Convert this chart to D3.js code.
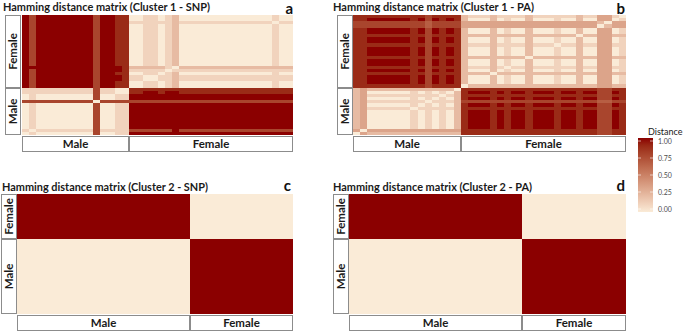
<!DOCTYPE html>
<html>
<head>
<meta charset="utf-8">
<script src="https://cdn.jsdelivr.net/npm/d3@7"></script>
<style>
  body { margin: 0; background: #fff; }
  text { font-family: Lato, "Open Sans", sans-serif; }
</style>
</head>
<body>
<div id="chart-area"></div>
<script>

// individuals are ordered males first, then females (same order on x and y)
// each string is one row of the distance matrix, one digit per column, value = digit / 9
var nMale1 = 15, nFemale1 = 23
var nMale2 = 5, nFemale2 = 3

var snp1 = [
  "010000000070011" + "99999999999999999999999",
  "101111111171111" + "77777797777777777777777",
  "010000000070011" + "99999999999999999999999",
  "010000000070011" + "99999999999999999999999",
  "010000000070011" + "99999999999999999999999",
  "010000000070011" + "99999999999999999999999",
  "010000000070011" + "99999999999999999999999",
  "010000000070011" + "99999999999999999999999",
  "010000000070011" + "99999999999999999999999",
  "010000000070011" + "99999999999999999999999",
  "777777777707777" + "77777777777777777777777",
  "010000000070011" + "99999999999999999999999",
  "010000000070011" + "99999999999999999999999",
  "111111111171100" + "88998998888888888888888",
  "111111111171100" + "88888888888888888888888",
  "979999999979988" + "00110120000000000000100",
  "979999999979988" + "00110120000000000000100",
  "979999999979998" + "11001121111111111111111",
  "979999999979998" + "11001121111111111111111",
  "979999999979988" + "00110120000000000000100",
  "979999999979998" + "11111011111111111111111",
  "999999999979998" + "22222102222222222222222",
  "979999999979988" + "00110120000000000000100",
  "979999999979988" + "00110120000000000000100",
  "979999999979988" + "00110120000000000000100",
  "979999999979988" + "00110120000000000000100",
  "979999999979988" + "00110120000000000000100",
  "979999999979988" + "00110120000000000000100",
  "979999999979988" + "00110120000000000000100",
  "979999999979988" + "00110120000000000000100",
  "979999999979988" + "00110120000000000000100",
  "979999999979988" + "00110120000000000000100",
  "979999999979988" + "00110120000000000000100",
  "979999999979988" + "00110120000000000000100",
  "979999999979988" + "00110120000000000000100",
  "979999999979988" + "11111121111111111111011",
  "979999999979988" + "00110120000000000000100",
  "979999999979988" + "00110120000000000000100"
]

var pa1 = [
  "032222222222222" + "88888888888888888887788",
  "303333333333333" + "88888888888888888887788",
  "230000001010102" + "89998989989998998997798",
  "230000001010102" + "89998989989998998997798",
  "230000001010102" + "89998989989998998997798",
  "230000001010102" + "89998989989998998997798",
  "230000001010102" + "89998989989998998997798",
  "230000001010102" + "89998989989998998997798",
  "231111110111112" + "88888888888888888887788",
  "230000001010102" + "89998989989998998997798",
  "231111111101112" + "77777777777777777776677",
  "230000001010102" + "89998989989998998997798",
  "231111111111012" + "88888888888888888887788",
  "230000001010102" + "89998989989998998997798",
  "232222222222220" + "88888888888888888887788",
  "888888888878888" + "02222222222222222223322",
  "889999998979898" + "20002010020001002003301",
  "889999998979898" + "20002010020001002003301",
  "889999998979898" + "20002010020001002003301",
  "888888888878888" + "22220222222222222223322",
  "889999998979898" + "20002010020001002003301",
  "888888888878888" + "21112101121111112113311",
  "889999998979898" + "20002010020001002003301",
  "889999998979898" + "20002010020001002003301",
  "888888888878888" + "22222222202222222223322",
  "889999998979898" + "20002010020001002003301",
  "889999998979898" + "20002010020001002003301",
  "889999998979898" + "20002010020001002003301",
  "888888888878888" + "21112111121110112113311",
  "889999998979898" + "20002010020001002003301",
  "889999998979898" + "20002010020001002003301",
  "888888888878888" + "22222222222222220223322",
  "889999998979898" + "20002010020001002003301",
  "889999998979898" + "20002010020001002003301",
  "777777777767777" + "33333333333333333330233",
  "777777777767777" + "33333333333333333332033",
  "889999998979898" + "20002010020001002003301",
  "888888888878888" + "21112111121111112113310"
]

var snp2 = ["00000999", "00000999", "00000999", "00000999", "00000999",
            "99999000", "99999000", "99999000"]
var pa2 = ["00000999", "00000999", "00000999", "00000999", "00000999",
           "99999000", "99999000", "99999000"]

var legendTicks = [0, 0.25, 0.5, 0.75, 1]

var titles = [
  "Hamming distance matrix (Cluster 1 - SNP)",
  "Hamming distance matrix (Cluster 1 - PA)",
  "Hamming distance matrix (Cluster 2 - SNP)",
  "Hamming distance matrix (Cluster 2 - PA)"
]
var letters = ["a", "b", "c", "d"]


var color = d3.scaleLinear()
  .domain([0, 1])
  .range(["#FAEBD7", "#8B0000"])
  .interpolate(d3.interpolateLab)

var svg = d3.select("#chart-area").append("svg")
  .attr("width", 685)
  .attr("height", 332)

// layout of the four panels (pixel boxes)
var panels = [
  { rows: snp1, nm: nMale1, nf: nFemale1, x0: 22, x1: 293, y0: 15, y1: 135, sx: 5, tx: 3, ty: 10.5, tw: 207, lx: 293, ly: 14 },
  { rows: pa1, nm: nMale1, nf: nFemale1, x0: 353, x1: 626, y0: 15, y1: 135, sx: 337, tx: 333, ty: 10.5, tw: 201, lx: 625, ly: 14 },
  { rows: snp2, nm: nMale2, nf: nFemale2, x0: 17, x1: 293, y0: 194, y1: 314, sx: 1, tx: 2, ty: 190.5, tw: 206, lx: 291, ly: 191 },
  { rows: pa2, nm: nMale2, nf: nFemale2, x0: 349, x1: 626, y0: 194, y1: 314, sx: 333, tx: 333, ty: 190.5, tw: 199, lx: 625, ly: 191 }
]

panels.forEach(function(p, k) {
  var n = p.nm + p.nf
  var ids = d3.range(n).map(function(i) {
    return i < p.nm ? "M" + (i + 1) : "F" + (i - p.nm + 1)
  })

  var x = d3.scaleBand().domain(ids).range([p.x0, p.x1])
  var y = d3.scaleBand().domain(ids).range([p.y1, p.y0])

  var cells = []
  p.rows.forEach(function(row, i) {
    for (var j = 0; j < n; j++) {
      cells.push({ r: ids[i], c: ids[j], v: +row[j] / 9 })
    }
  })

  var g = svg.append("g")

  // snap cell edges to whole pixels so no seams show between tiles
  g.selectAll("rect.cell")
    .data(cells)
    .enter().append("rect")
      .attr("class", "cell")
      .attr("shape-rendering", "crispEdges")
      .attr("x", function(d) { return Math.round(x(d.c)) })
      .attr("y", function(d) { return Math.round(y(d.r)) })
      .attr("width", function(d) {
        return Math.round(x(d.c) + x.bandwidth()) - Math.round(x(d.c))
      })
      .attr("height", function(d) {
        return Math.round(y(d.r) + y.bandwidth()) - Math.round(y(d.r))
      })
      .attr("fill", function(d) { return color(d.v) })

  // strips: bottom (columns) and left (rows)
  var xSplit = Math.round(x(ids[p.nm]))
  var ySplit = Math.round(y(ids[p.nm - 1]))
  var bottom = [
    { label: "Male", a: p.x0, b: xSplit },
    { label: "Female", a: xSplit, b: p.x1 }
  ]
  var left = [
    { label: "Female", a: p.y0, b: ySplit },
    { label: "Male", a: ySplit, b: p.y1 }
  ]

  g.selectAll("rect.bstrip")
    .data(bottom)
    .enter().append("rect")
      .attr("class", "bstrip")
      .attr("x", function(d) { return d.a + 0.5 })
      .attr("y", p.y1 + 1.5)
      .attr("width", function(d) { return d.b - d.a - 1 })
      .attr("height", 15)
      .attr("fill", "#fff")
      .attr("stroke", "#8c8c8c")

  g.selectAll("text.bstrip")
    .data(bottom)
    .enter().append("text")
      .attr("x", function(d) { return (d.a + d.b) / 2 })
      .attr("y", p.y1 + 13)
      .attr("text-anchor", "middle")
      .attr("font-size", "11.5px")
      .attr("font-weight", "bold")
      .attr("fill", "#1a1a1a")
      .text(function(d) { return d.label })

  g.selectAll("rect.lstrip")
    .data(left)
    .enter().append("rect")
      .attr("class", "lstrip")
      .attr("x", p.sx + 0.5)
      .attr("y", function(d) { return d.a + 0.5 })
      .attr("width", 15)
      .attr("height", function(d) { return d.b - d.a - 1 })
      .attr("fill", "#fff")
      .attr("stroke", "#8c8c8c")

  g.selectAll("text.lstrip")
    .data(left)
    .enter().append("text")
      .attr("transform", function(d) {
        return "translate(" + (p.sx + 12) + "," + ((d.a + d.b) / 2) + ") rotate(-90)"
      })
      .attr("text-anchor", "middle")
      .attr("font-size", "11.5px")
      .attr("font-weight", "bold")
      .attr("fill", "#1a1a1a")
      .text(function(d) { return d.label })

  g.append("text")
    .attr("x", p.tx)
    .attr("y", p.ty)
    .attr("font-size", "10.5px")
    .attr("font-weight", "bold")
    .attr("fill", "#1a1a1a")
    .attr("textLength", p.tw)
    .attr("lengthAdjust", "spacingAndGlyphs")
    .text(titles[k])

  g.append("text")
    .attr("x", p.lx)
    .attr("y", p.ly)
    .attr("text-anchor", "end")
    .attr("font-size", "15px")
    .attr("font-weight", "bold")
    .attr("fill", "#111")
    .text(letters[k])
})

// colour bar legend
var ly = d3.scaleLinear().domain([0, 1]).range([209, 141])

var grad = svg.append("defs").append("linearGradient")
  .attr("id", "grad")
  .attr("x1", 0).attr("y1", 1).attr("x2", 0).attr("y2", 0)

d3.range(0, 1.01, 0.1).forEach(function(t) {
  grad.append("stop")
    .attr("offset", t)
    .attr("stop-color", color(t))
})

svg.append("rect")
  .attr("x", 638)
  .attr("y", 138)
  .attr("width", 15)
  .attr("height", 74)
  .attr("fill", "url(#grad)")

svg.append("g").selectAll("g")
  .data(legendTicks)
  .enter().append("g")
    .each(function(d) {
      d3.select(this).append("line")
        .attr("x1", 638).attr("x2", 641)
        .attr("y1", ly(d)).attr("y2", ly(d))
        .attr("stroke", "#fff").attr("stroke-opacity", 0.6)
      d3.select(this).append("line")
        .attr("x1", 650).attr("x2", 653)
        .attr("y1", ly(d)).attr("y2", ly(d))
        .attr("stroke", "#fff").attr("stroke-opacity", 0.6)
    })

svg.append("g").selectAll("text")
  .data(legendTicks)
  .enter().append("text")
    .attr("x", 658)
    .attr("y", function(d) { return ly(d) + 2.5 })
    .attr("font-family", "Liberation Sans, Arial, sans-serif")
    .attr("font-size", "7px")
    .attr("fill", "#4d4d4d")
    .text(function(d) { return d3.format(".2f")(d) })

svg.append("text")
  .attr("x", 648)
  .attr("y", 135)
  .attr("font-family", "Liberation Sans, Arial, sans-serif")
  .attr("font-size", "9px")
  .attr("fill", "#1a1a1a")
  .text("Distance")

</script>
</body>
</html>
